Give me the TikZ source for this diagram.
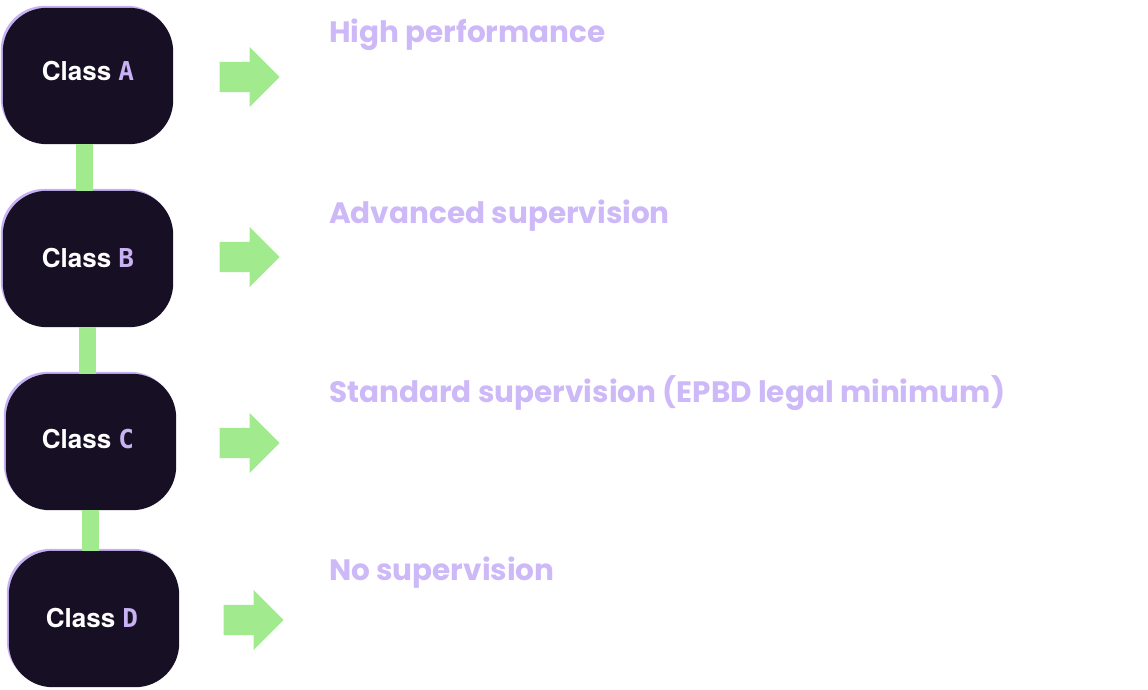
\documentclass[tikz,border=0pt]{standalone}
\usepackage{fontspec}
\setmainfont{TeX Gyre Heros}
\newfontfamily\labelfont{Poppins}
\newfontfamily\letterfont{DejaVu Sans Mono}
\usetikzlibrary{shapes.arrows}
\definecolor{boxdark}{HTML}{170F23}
\definecolor{lav}{HTML}{C8B2F5}
\definecolor{lavtext}{HTML}{CDB8F8}
\definecolor{grn}{HTML}{A2EA8E}
\tikzset{
  boxpos/.style={minimum width=170pt, minimum height=136pt, inner sep=0pt},
  classtext/.style={text=white, font=\fontsize{26}{30}\selectfont\bfseries, inner sep=0pt, anchor=base},
  bar/.style={draw=grn, line width=17pt},
  bigarrow/.style={single arrow, fill=grn, draw=none, inner xsep=0pt, inner ysep=15pt, minimum height=60pt, single arrow head extend=15pt, single arrow tip angle=90, anchor=tip},
  level/.style={text=lavtext, font=\labelfont\bfseries\fontsize{29.5}{34}\selectfont, inner sep=0pt, anchor=base west}
}
\begin{document}
\begin{tikzpicture}[x=1pt,y=-1pt]
\useasboundingbox (0,0) rectangle (1148,690);
% boxes (positions)
\node[boxpos] (A) at (88,76) {};
\node[boxpos] (B) at (88,259) {};
\node[boxpos] (C) at (91,442) {};
\node[boxpos] (D) at (94,619) {};
\foreach \n in {A,B,C,D}{
  \fill[lav, rounded corners=44pt] ([shift={(-2,-2)}]\n.north west) rectangle ([shift={(-2,-2)}]\n.south east);
  \fill[boxdark, rounded corners=44pt] (\n.north west) rectangle (\n.south east);
}
% connectors
\draw[bar] ([xshift=-3.5pt]A.south) coordinate (ab) -- (ab |- B.north);
\draw[bar] ([xshift=-0.5pt]B.south) coordinate (bc) -- (bc |- C.north);
\draw[bar] ([xshift=-0.5pt]C.south) coordinate (cd) -- (cd |- D.north);
% texts
\node[classtext] (tA) at (88,81) {Class {\color{lav}\letterfont\bfseries A}};
\node[classtext] (tB) at (88,267) {Class {\color{lav}\letterfont\bfseries B}};
\node[classtext] (tC) at (88,448) {Class {\color{lav}\letterfont\bfseries C}};
\node[classtext] (tD) at (92,627) {Class {\color{lav}\letterfont\bfseries D}};
% arrows
\node[bigarrow] (arA) at (280,77) {};
\node[bigarrow] (arB) at (280,257) {};
\node[bigarrow] (arC) at (280,443) {};
\node[bigarrow] (arD) at (284,620) {};
% labels
\node[level] (lA) at (329,43) {High performance};
\node[level] (lB) at (329,223) {Advanced supervision};
\node[level] (lC) at (329,402) {Standard supervision (EPBD legal minimum)};
\node[level] (lD) at (329,580) {No supervision};
\end{tikzpicture}
\end{document}
